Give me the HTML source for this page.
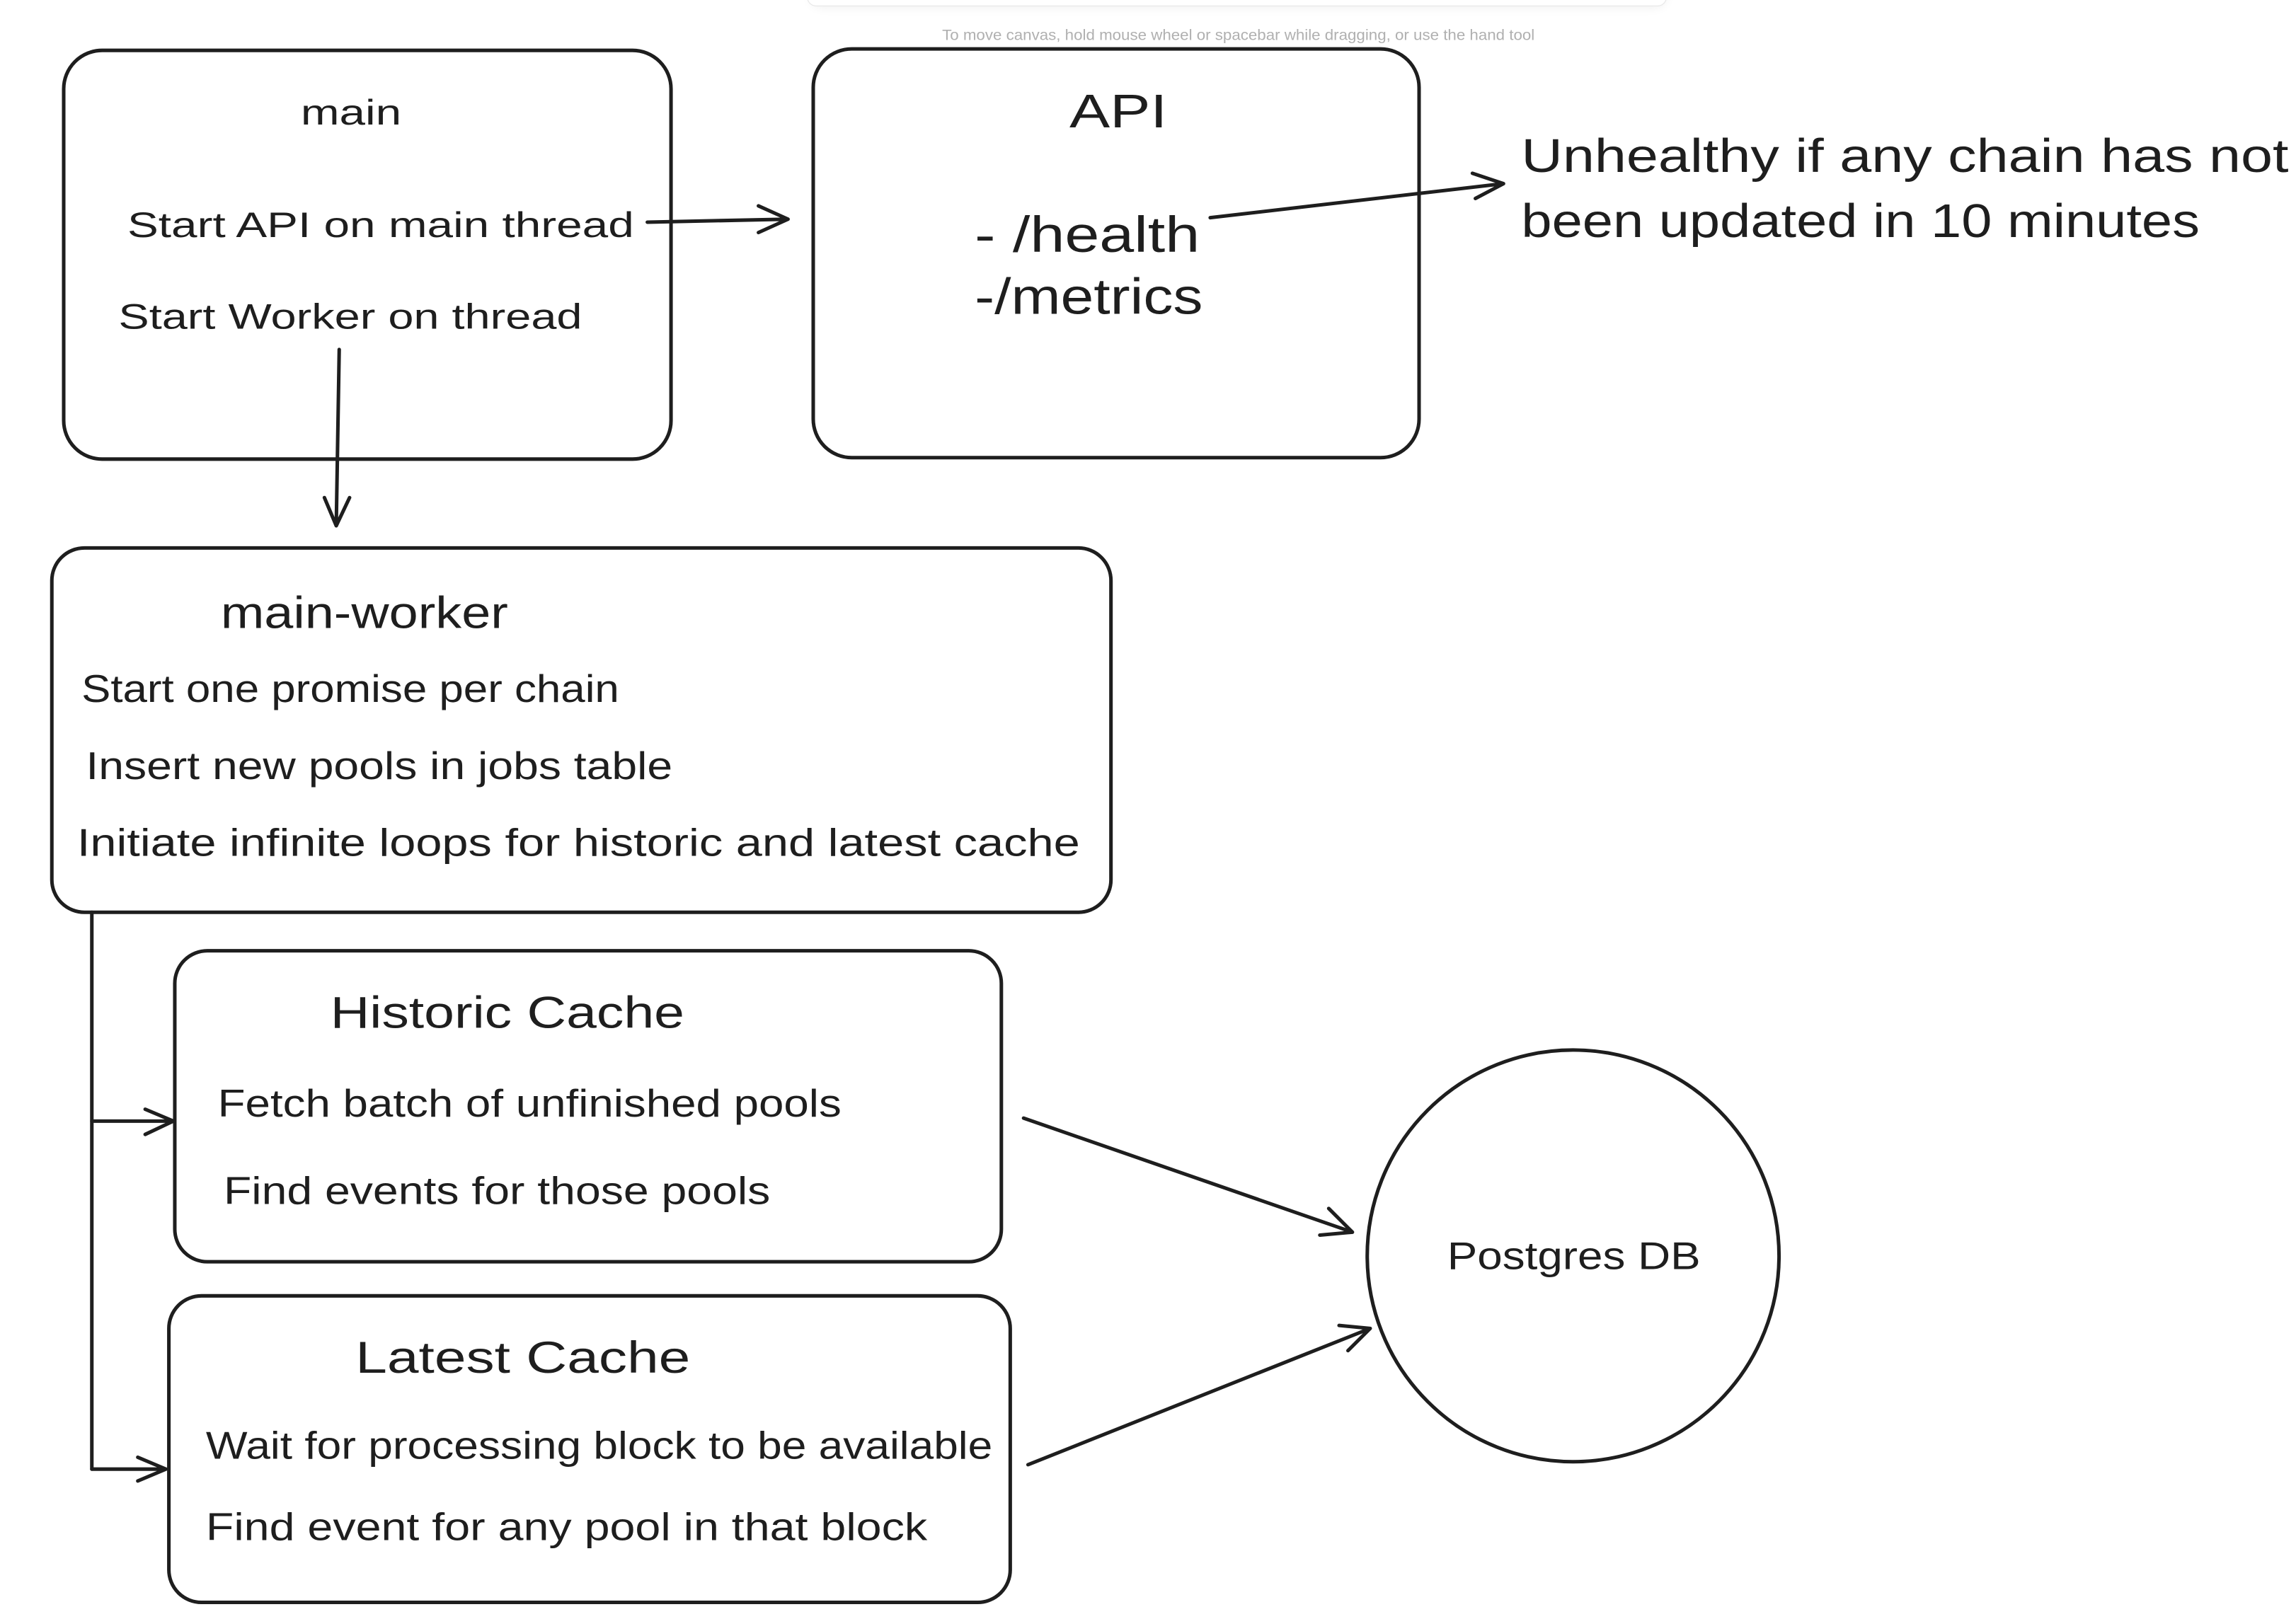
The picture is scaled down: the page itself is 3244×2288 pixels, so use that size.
<!DOCTYPE html>
<html><head><meta charset="utf-8"><style>
html,body{margin:0;padding:0;background:#fff;}
svg{display:block;}
text{font-family:"Liberation Sans","DejaVu Sans",sans-serif;fill:#1e1e1e;}
</style></head><body>
<svg width="3244" height="2288" viewBox="0 0 1550 1093.2" xmlns="http://www.w3.org/2000/svg">
<defs>
<filter id="sh" x="-10%" y="-200%" width="120%" height="500%"><feGaussianBlur stdDeviation="4"/></filter>
</defs>
<rect x="0" y="0" width="1550" height="1093.2" fill="#fff"/>
<!-- toolbar -->
<rect x="548" y="-20" width="576" height="24" rx="6" fill="#000" opacity="0.08" filter="url(#sh)"/>
<rect x="545" y="-20" width="580" height="24" rx="6" fill="#fff" stroke="#e8e8e8" stroke-width="0.6"/>
<text x="836" y="27" font-size="10" text-anchor="middle" style="fill:#b0b0b0" textLength="400" lengthAdjust="spacingAndGlyphs">To move canvas, hold mouse wheel or spacebar while dragging, or use the hand tool</text>

<g fill="none" stroke="#1e1e1e" stroke-width="2.4" stroke-linecap="round" stroke-linejoin="round">
<rect x="43" y="34" width="410" height="276" rx="26"/>
<rect x="549" y="33" width="409" height="276" rx="26"/>
<rect x="35" y="370" width="715" height="246" rx="22"/>
<rect x="118" y="642" width="558" height="210" rx="22"/>
<rect x="114" y="875" width="568" height="207" rx="22"/>
<circle cx="1062" cy="848" r="139"/>
<!-- arrows -->
<path d="M437 150 L532 148 M512 139 L532 148 L512 157"/>
<path d="M817 147 L1015 124 M994 117 L1015 124 L996 134"/>
<path d="M229 236 L227 355 M219 336 L227 355 L236 336"/>
<path d="M62 616 L62 992"/>
<path d="M62 757 L117 757 M98 749 L117 757 L98 766"/>
<path d="M62 992 L112 992 M93 984 L112 992 L93 1000"/>
<path d="M691 755 L913 832 M897 816 L913 832 L891 834"/>
<path d="M694 989 L925 897 M904 895 L925 897 L910 912"/>
</g>

<text x="237" y="84" font-size="24" text-anchor="middle" textLength="68" lengthAdjust="spacingAndGlyphs">main</text>
<text x="86" y="160" font-size="24" textLength="342" lengthAdjust="spacingAndGlyphs">Start API on main thread</text>
<text x="80" y="222" font-size="24" textLength="313" lengthAdjust="spacingAndGlyphs">Start Worker on thread</text>

<text x="755" y="86" font-size="32" text-anchor="middle" textLength="66" lengthAdjust="spacingAndGlyphs">API</text>
<text x="658" y="170" font-size="34" textLength="152" lengthAdjust="spacingAndGlyphs">- /health</text>
<text x="658" y="212" font-size="34" textLength="154" lengthAdjust="spacingAndGlyphs">-/metrics</text>

<text x="1027" y="116" font-size="32" textLength="518" lengthAdjust="spacingAndGlyphs">Unhealthy if any chain has not</text>
<text x="1027" y="160" font-size="32" textLength="458" lengthAdjust="spacingAndGlyphs">been updated in 10 minutes</text>

<text x="149" y="424" font-size="30" textLength="194" lengthAdjust="spacingAndGlyphs">main-worker</text>
<text x="55" y="474" font-size="26" textLength="363" lengthAdjust="spacingAndGlyphs">Start one promise per chain</text>
<text x="58" y="526" font-size="26" textLength="396" lengthAdjust="spacingAndGlyphs">Insert new pools in jobs table</text>
<text x="52" y="578" font-size="26" textLength="677" lengthAdjust="spacingAndGlyphs">Initiate infinite loops for historic and latest cache</text>

<text x="223" y="694" font-size="30" textLength="239" lengthAdjust="spacingAndGlyphs">Historic Cache</text>
<text x="147" y="754" font-size="26" textLength="421" lengthAdjust="spacingAndGlyphs">Fetch batch of unfinished pools</text>
<text x="151" y="813" font-size="26" textLength="369" lengthAdjust="spacingAndGlyphs">Find events for those pools</text>

<text x="240" y="927" font-size="30" textLength="226" lengthAdjust="spacingAndGlyphs">Latest Cache</text>
<text x="139" y="985" font-size="26" textLength="531" lengthAdjust="spacingAndGlyphs">Wait for processing block to be available</text>
<text x="139" y="1040" font-size="26" textLength="487" lengthAdjust="spacingAndGlyphs">Find event for any pool in that block</text>

<text x="977" y="857" font-size="26" textLength="171" lengthAdjust="spacingAndGlyphs">Postgres DB</text>
</svg>
</body></html>
